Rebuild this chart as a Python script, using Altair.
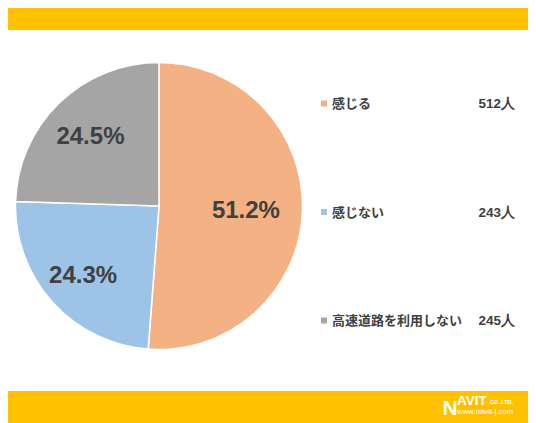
import altair as alt
import pandas as pd

# ---- data ----
categories = ["感じる", "感じない", "高速道路を利用しない"]
counts = [512, 243, 245]
percents = [51.2, 24.3, 24.5]
colors = ["#F4B183", "#9DC3E6", "#A5A5A5"]
count_labels = ["512人", "243人", "245人"]

df = pd.DataFrame({
    "category": categories,
    "count": counts,
    "pct": percents,
    "idx": list(range(len(categories))),
    "count_label": count_labels,
})
df["pct_label"] = df["pct"].map(lambda v: f"{v:.1f}%")

W, H = 520, 415
CX, CY, R = 151.0, 198.0, 143.5
LABEL_R = [87, 102, 98.5]  # label distance from centre for each slice (style)

color_scale = alt.Scale(domain=categories, range=colors)
theta_scale = alt.Scale(domain=[0, sum(counts)])

base = alt.Chart(df)

# background bands
band_data = alt.Data(values=[{"b": "band"}])
top_band = alt.Chart(band_data).mark_rect(color="#FFC000").encode(
    x=alt.value(0), x2=alt.value(W), y=alt.value(0), y2=alt.value(22)
)
bottom_band = alt.Chart(band_data).mark_rect(color="#FFC000").encode(
    x=alt.value(0), x2=alt.value(W), y=alt.value(383), y2=alt.value(H)
)

# pie
pie = base.mark_arc(stroke="white", strokeWidth=1.5).encode(
    theta=alt.Theta("count:Q", stack=True, scale=theta_scale),
    color=alt.Color("category:N", scale=color_scale, legend=None),
    order=alt.Order("idx:Q"),
    x=alt.value(CX),
    y=alt.value(CY),
    radius=alt.value(R),
)

label_base = base.transform_window(
    cum="sum(count)", sort=[alt.SortField("idx")]
).transform_calculate(
    mid="datum.cum - datum.count / 2"
)
pct_layers = []
for i, r in enumerate(LABEL_R):
    pct_layers.append(
        label_base.transform_filter(alt.datum.idx == i).mark_text(
            font="Liberation Sans", fontWeight="bold", fontSize=24, color="#404040",
            align="center", baseline="middle", dy=2,
        ).encode(
            theta=alt.Theta("mid:Q", stack=False, scale=theta_scale),
            text="pct_label:N",
            x=alt.value(CX),
            y=alt.value(CY),
            radius=alt.value(r),
        )
    )

# legend
ypos = alt.Y("category:N", sort=categories,
             scale=alt.Scale(type="point", padding=0, range=[95.5, 312.5]),
             axis=None)

leg_sq = base.mark_square(size=36, opacity=1, filled=True).encode(
    x=alt.value(316),
    y=ypos,
    color=alt.Color("category:N", scale=color_scale, legend=None),
)
leg_txt = base.mark_text(
    font="Noto Sans CJK JP", fontWeight="bold", fontSize=13, color="#404040",
    align="left", baseline="middle", dy=0.5,
).encode(x=alt.value(324), y=ypos, text="category:N")
leg_cnt = base.mark_text(
    font="Liberation Sans", fontWeight="bold", fontSize=13.5, color="#404040",
    align="right", baseline="middle", dy=0.5,
).encode(x=alt.value(507), y=ypos, text="count_label:N")

# logo
logo_data = alt.Data(values=[{"t": "logo"}])
logo_n = alt.Chart(logo_data).mark_text(
    text="N", font="Liberation Sans", fontWeight="bold", fontSize=21,
    color="white", align="left", baseline="alphabetic",
).encode(x=alt.value(434.5), y=alt.value(406.5))
logo_avit = alt.Chart(logo_data).mark_text(
    text="AVIT", font="Liberation Sans", fontWeight="bold", fontSize=13.5,
    color="white", align="left", baseline="alphabetic",
).encode(x=alt.value(449), y=alt.value(397))
logo_co = alt.Chart(logo_data).mark_text(
    text="CO.,LTD.", font="Liberation Sans", fontWeight="bold", fontSize=5.5,
    color="white", align="left", baseline="alphabetic",
).encode(x=alt.value(482), y=alt.value(396))
logo_www = alt.Chart(logo_data).mark_text(
    text="www.navit-j.com", font="Liberation Sans", fontSize=7.8,
    color="white", align="left", baseline="alphabetic",
).encode(x=alt.value(449), y=alt.value(406))

chart = alt.layer(
    top_band, bottom_band, pie, *pct_layers, leg_sq, leg_txt, leg_cnt,
    logo_n, logo_avit, logo_co, logo_www,
).properties(
    width=W, height=H,
    autosize=alt.AutoSizeParams(type="none"),
    padding=0,
    background="white",
).configure_view(stroke=None)

chart.save("out.html", embed_options={"renderer": "svg", "actions": False})
